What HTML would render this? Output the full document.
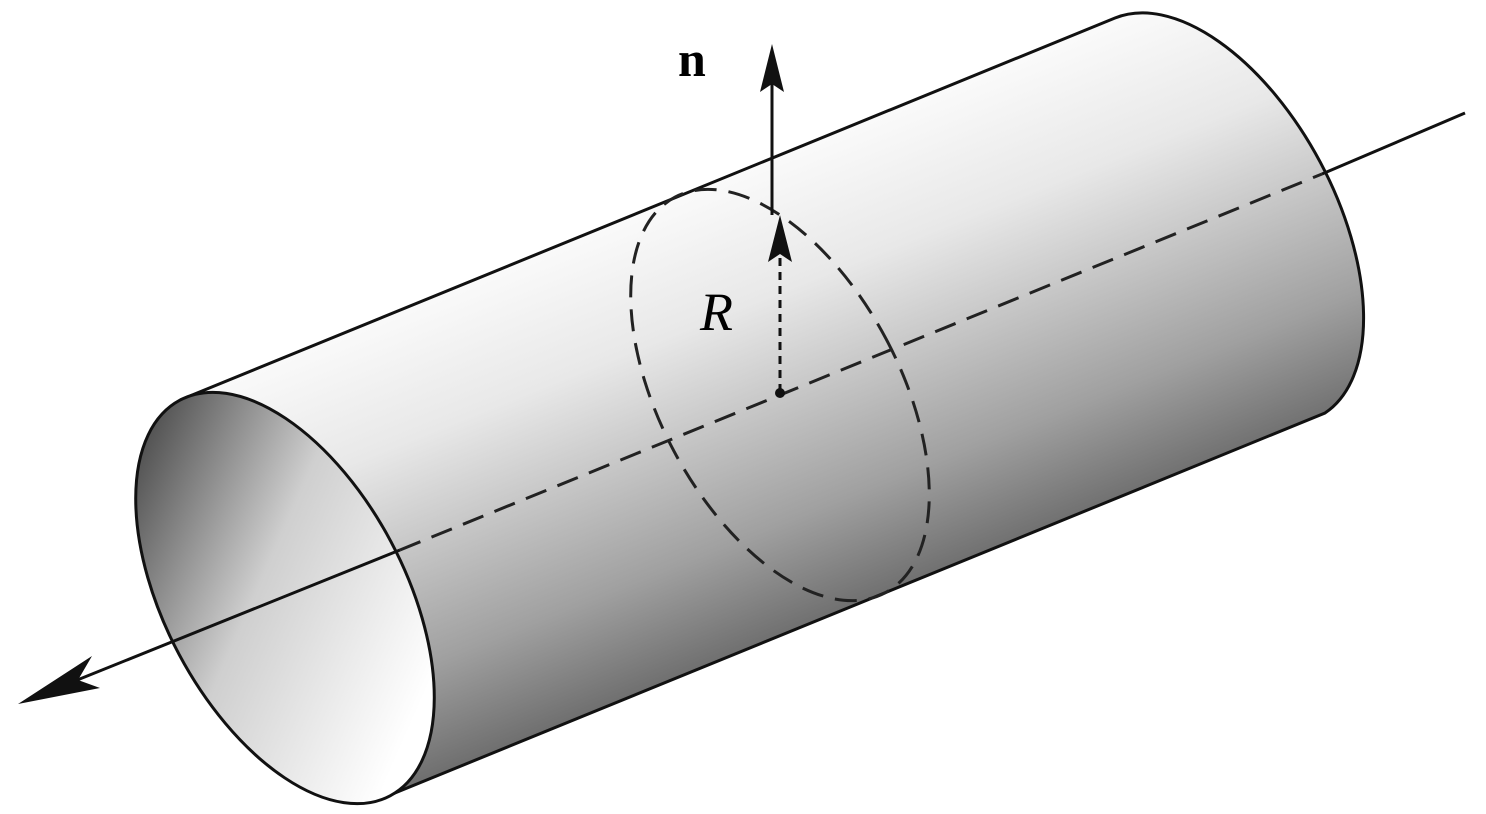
<!DOCTYPE html>
<html><head><meta charset="utf-8"><style>html,body{margin:0;padding:0;background:#fff}svg{display:block}</style></head>
<body>
<svg width="1486" height="814" viewBox="0 0 1486 814">
<defs>
<linearGradient id="body" gradientUnits="userSpaceOnUse" x1="700" y1="150" x2="900" y2="650">
<stop offset="0" stop-color="#ffffff"/><stop offset="0.3" stop-color="#e8e8e8"/><stop offset="0.7" stop-color="#a0a0a0"/><stop offset="1" stop-color="#555"/>
</linearGradient>
<linearGradient id="inner" gradientUnits="userSpaceOnUse" x1="180" y1="440" x2="400" y2="720">
<stop offset="0" stop-color="#555"/><stop offset="0.45" stop-color="#cfcfcf"/><stop offset="1" stop-color="#ffffff"/>
</linearGradient>
</defs>
<path d="M180,400 L1115,18 A120,224 -28 0 1 1325,413 L390,795 A120,224 -28 0 0 180,400 Z" fill="url(#body)" stroke="#111" stroke-width="3"/>
<ellipse cx="285" cy="598" rx="120" ry="224" transform="rotate(-28 285 598)" fill="url(#inner)" stroke="#111" stroke-width="3"/>
<ellipse cx="780" cy="395" rx="120" ry="224" transform="rotate(-28 780 395)" fill="none" stroke="#222" stroke-width="3" stroke-dasharray="22,12"/>
<line x1="400" y1="550" x2="1322" y2="174" stroke="#222" stroke-width="3" stroke-dasharray="22,12"/>
<line x1="1322" y1="174" x2="1465" y2="113" stroke="#111" stroke-width="3"/>
<line x1="400" y1="550" x2="40" y2="695" stroke="#111" stroke-width="3"/>
<polygon points="18,704 92,656 78,680 100,688" fill="#111"/>
<line x1="780" y1="392" x2="780" y2="250" stroke="#111" stroke-width="3" stroke-dasharray="8,6"/>
<polygon points="780,215 768,262 780,254 792,262" fill="#111"/>
<line x1="772" y1="215" x2="772" y2="80" stroke="#111" stroke-width="3"/>
<polygon points="772,44 760,92 772,84 784,92" fill="#111"/>
<circle cx="780" cy="393" r="5" fill="#111"/>
<text x="678" y="76" style="font-family:'Liberation Serif',serif" font-weight="bold" font-size="50">n</text>
<text x="700" y="330" style="font-family:'Liberation Serif',serif" font-style="italic" font-size="54">R</text>
</svg>
</body></html>
